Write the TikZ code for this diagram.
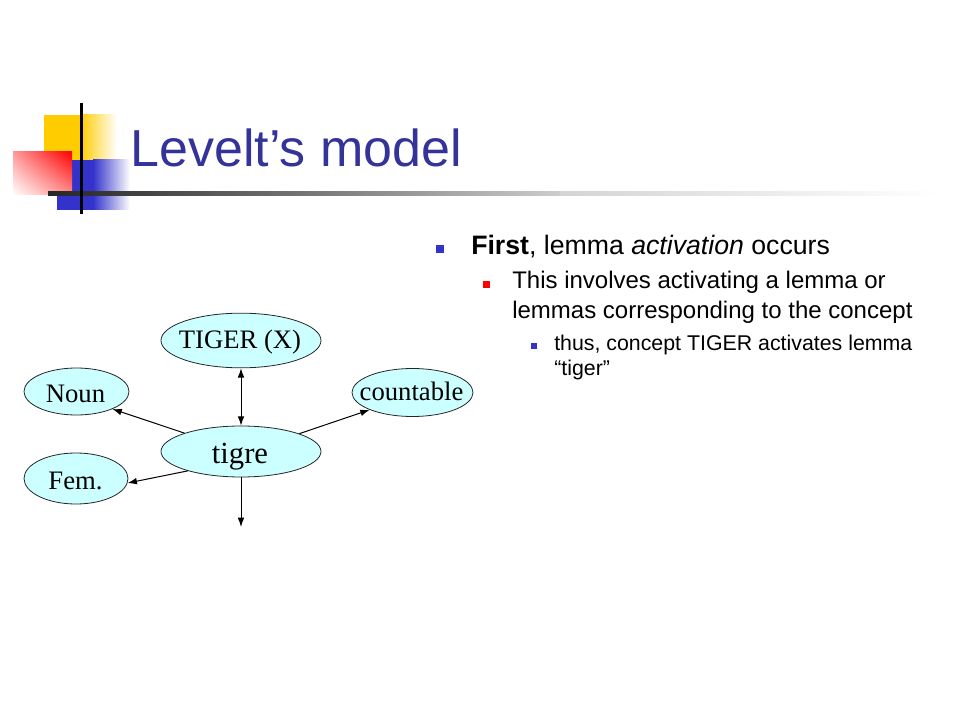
\documentclass[tikz,border=0pt]{standalone}
\usepackage{fontspec}
\setmainfont{Liberation Serif}
\setsansfont{Liberation Sans}
\usepackage{tikz}
\usetikzlibrary{shapes.geometric,arrows.meta,shadings}
\definecolor{titleblue}{HTML}{333399}
\definecolor{boxblue}{HTML}{3333CC}
\definecolor{boxyellow}{HTML}{FFCC00}
\definecolor{lemmacyan}{HTML}{CCFFFF}

\begin{document}
\begin{tikzpicture}[x=0.75pt,y=-0.75pt,>={Latex[length=7pt,width=5pt]},
  lemma/.style={ellipse,draw=black!85,fill=lemmacyan,line width=0.6pt,inner sep=0pt},
  word/.style={anchor=base,inner sep=0pt,font=\fontsize{20pt}{24pt}\selectfont},
  link/.style={line width=0.75pt,->},
  txt/.style={anchor=base west,inner sep=0pt}]
\useasboundingbox (0,0) rectangle (960,720);
% corner squares
\fill[boxyellow] (44,115) rectangle (80,160);
\shade[left color=boxyellow,right color=white] (80,115) rectangle (117,160);
\fill[boxblue] (57,160) rectangle (93,210);
\shade[left color=boxblue,right color=white] (93,160) rectangle (130,210);
\shade[upper right=red,lower left=white,upper left=red!40,lower right=red!45] (13,152) rectangle (72,195);
% rules
\shade[left color=black!85,right color=black!55] (48,192) rectangle (300,196);
\shade[left color=black!55,right color=black!20] (300,192) rectangle (560,196);
\shade[left color=black!17,right color=white] (560,192) rectangle (940,196);
\fill[black] (79.5,103) rectangle (82.5,214);
% title
\node[txt,text=titleblue,font=\sffamily\fontsize{39pt}{46pt}\selectfont] (title) at (130,167) {Levelt’s model};
% bullets
\fill[boxblue] (436,245) rectangle (444,253);
\node[txt,font=\sffamily\fontsize{20pt}{24pt}\selectfont] (first) at (471,255) {\textbf{First}, lemma \textit{activation} occurs};
\fill[red] (483,281) rectangle (490,288);
\node[txt,font=\sffamily\fontsize{18pt}{22pt}\selectfont] (involves) at (512,289) {This involves activating a lemma or};
\node[txt,font=\sffamily\fontsize{18pt}{22pt}\selectfont] (involves2) at (512,318) {lemmas corresponding to the concept};
\fill[boxblue] (531,343) rectangle (537,349);
\node[txt,font=\sffamily\fontsize{16pt}{19pt}\selectfont] (thus) at (554,350) {thus, concept TIGER activates lemma};
\node[txt,font=\sffamily\fontsize{16pt}{19pt}\selectfont] (thus2) at (554,375) {“tiger”};
% lemma network
\node[lemma,minimum width=120pt,minimum height=41pt] (tiger) at (241,340.5) {};
\node[lemma,minimum width=78.75pt,minimum height=35.25pt] (noun) at (76.5,391.5) {};
\node[lemma,minimum width=90.75pt,minimum height=36pt] (count) at (412.5,392.5) {};
\node[lemma,minimum width=120pt,minimum height=38.25pt] (tigre) at (241,451.5) {};
\node[lemma,minimum width=78pt,minimum height=38.25pt] (fem) at (76,478.5) {};
\node[word] (tigerT) at (240,349) {TIGER (X)};
\node[word] (nounT) at (75.5,402) {Noun};
\node[word] (countT) at (411.5,400) {countable};
\node[word,font=\fontsize{23pt}{28pt}\selectfont] (tigreT) at (240,463) {tigre};
\node[word] (femT) at (75.5,489) {Fem.};
\coordinate (out) at (241,527);
\draw[link,<->] (tigre.north) -- (tiger.south);
\draw[link] (tigre.162) -- (noun.-26);
\draw[link] (tigre.17) -- (count.202);
\draw[link] (tigre.200) -- (fem.-5);
\draw[link] (tigre.south) -- (out);
\end{tikzpicture}
\end{document}
